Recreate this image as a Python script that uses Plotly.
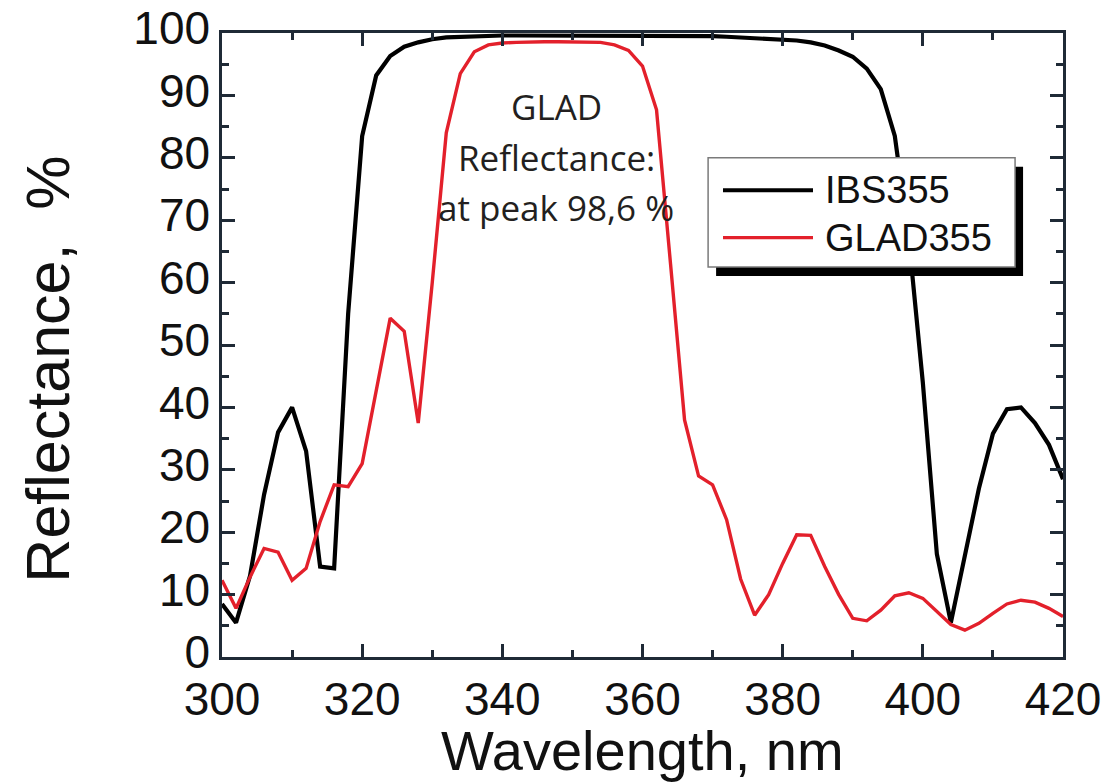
import plotly.graph_objects as go

# Wavelength grid, nm
wavelength = [300, 302, 304, 306, 308, 310, 312, 314, 316, 318,
              320, 322, 324, 326, 328, 330, 332, 334, 336, 338,
              340, 342, 344, 346, 348, 350, 352, 354, 356, 358,
              360, 362, 364, 366, 368, 370, 372, 374, 376, 378,
              380, 382, 384, 386, 388, 390, 392, 394, 396, 398,
              400, 402, 404, 406, 408, 410, 412, 414, 416, 418,
              420]

# Reflectance, % — ion-beam-sputtered mirror
ibs355 = [8.5, 5.5, 13.0, 26.0, 36.0, 40.0, 33.0, 14.5, 14.2, 55.0,
          83.5, 93.2, 96.3, 97.8, 98.5, 99.0, 99.3, 99.4, 99.5, 99.6,
          99.6, 99.6, 99.6, 99.6, 99.6, 99.6, 99.6, 99.6, 99.6, 99.6,
          99.6, 99.6, 99.6, 99.5, 99.5, 99.5, 99.4, 99.3, 99.2, 99.1,
          99.0, 98.8, 98.5, 98.0, 97.2, 96.2, 94.3, 91.0, 83.5, 67.0,
          44.0, 16.5, 5.5, 16.0, 27.0, 35.8, 39.7, 40.0, 37.5, 34.0,
          28.5]

# Reflectance, % — glancing-angle-deposited mirror
glad355 = [12.3, 7.8, 12.8, 17.4, 16.8, 12.3, 14.2, 21.7, 27.6, 27.3,
           31.0, 43.0, 54.3, 52.2, 37.5, 60.0, 84.0, 93.5, 97.0, 98.1,
           98.4, 98.5, 98.6, 98.6, 98.6, 98.6, 98.6, 98.5, 98.1, 97.2,
           94.7, 87.7, 63.0, 38.0, 29.0, 27.6, 22.0, 12.5, 6.7, 10.0,
           15.0, 19.6, 19.5, 14.5, 10.0, 6.2, 5.8, 7.5, 9.8, 10.3,
           9.4, 7.3, 5.2, 4.3, 5.4, 7.0, 8.5, 9.1, 8.8, 7.8,
           6.5]

x_ticks = [300, 320, 340, 360, 380, 400, 420]
y_ticks = [0, 10, 20, 30, 40, 50, 60, 70, 80, 90, 100]

BLACK = "#000000"
RED = "#e3202b"
AXIS = "#1f2a36"
ARIAL = "Liberation Sans, Arial, sans-serif"

fig = go.Figure()
fig.add_trace(go.Scatter(x=wavelength, y=ibs355, mode="lines", name="IBS355",
                         line=dict(color=BLACK, width=4.2)))
fig.add_trace(go.Scatter(x=wavelength, y=glad355, mode="lines", name="GLAD355",
                         line=dict(color=RED, width=3.4)))

axis_common = dict(
    showgrid=False, zeroline=False, showline=True, linecolor=AXIS, linewidth=2.5,
    mirror="allticks", ticks="inside", tickcolor=AXIS, tickwidth=2.5, ticklen=13,
    tickfont=dict(family=ARIAL, size=46, color="#111111"), automargin=False,
)

fig.update_xaxes(
    range=[300, 420], tickvals=x_ticks, ticklabelstandoff=0,
    minor=dict(ticks="inside", dtick=10, ticklen=7, tickwidth=2.5, tickcolor=AXIS),
    **axis_common,
)
fig.update_yaxes(
    range=[0, 100], tickvals=y_ticks, ticklabelshift=-5,
    minor=dict(ticks="inside", dtick=5, ticklen=7, tickwidth=2.5, tickcolor=AXIS),
    **axis_common,
)

# Axis titles
fig.add_annotation(x=0.5, y=-0.1498, xref="paper", yref="paper", text="Wavelength, nm",
                   showarrow=False, xanchor="center", yanchor="middle",
                   font=dict(family=ARIAL, size=56, color="#111111"))
fig.add_annotation(x=-0.207, y=0.462, xref="paper", yref="paper", text="Reflectance,  %",
                   textangle=-90, showarrow=False, xanchor="center", yanchor="middle",
                   font=dict(family=ARIAL, size=61, color="#111111"))

# Peak-reflectance note
peak_text = f"at peak {max(glad355):.1f} %".replace(".", ",")
note_font = dict(family="Open Sans, sans-serif", size=35, color="#231f20")
for text, yv in [("GLAD", 88.2), ("Reflectance:", 80.1), (peak_text, 72.0)]:
    fig.add_annotation(x=347.7, y=yv, xref="x", yref="y", text=text, showarrow=False,
                       font=note_font, xanchor="center", yanchor="middle")

# Framed legend with drop shadow
L, R_, T, B = 0.578, 0.943, 0.800, 0.625
dx, dy = 8 / 841, 9 / 624
fig.add_shape(type="rect", xref="paper", yref="paper", x0=L + dx, x1=R_ + dx, y0=B - dy, y1=T - dy,
              fillcolor="#000000", line=dict(width=0), layer="above")
fig.add_shape(type="rect", xref="paper", yref="paper", x0=L, x1=R_, y0=B, y1=T,
              fillcolor="#ffffff", line=dict(color="#7a7a7a", width=1.5), layer="above")
legend_rows = [("IBS355", BLACK, 4.2, 0.748), ("GLAD355", RED, 3.4, 0.672)]
for name, color, width, yp in legend_rows:
    fig.add_shape(type="line", xref="paper", yref="paper",
                  x0=(723 - 222) / 841, x1=(813 - 222) / 841, y0=yp, y1=yp,
                  line=dict(color=color, width=width), layer="above")
    fig.add_annotation(x=(823 - 222) / 841, y=yp, xref="paper", yref="paper", text=name,
                       showarrow=False, xanchor="left", yanchor="middle",
                       font=dict(family=ARIAL, size=38, color="#111111"))

fig.update_layout(
    width=1111, height=784,
    margin=dict(l=222, r=48, t=33, b=127),
    paper_bgcolor="#ffffff", plot_bgcolor="#ffffff",
    showlegend=False,
)

fig.write_html("out.html")
